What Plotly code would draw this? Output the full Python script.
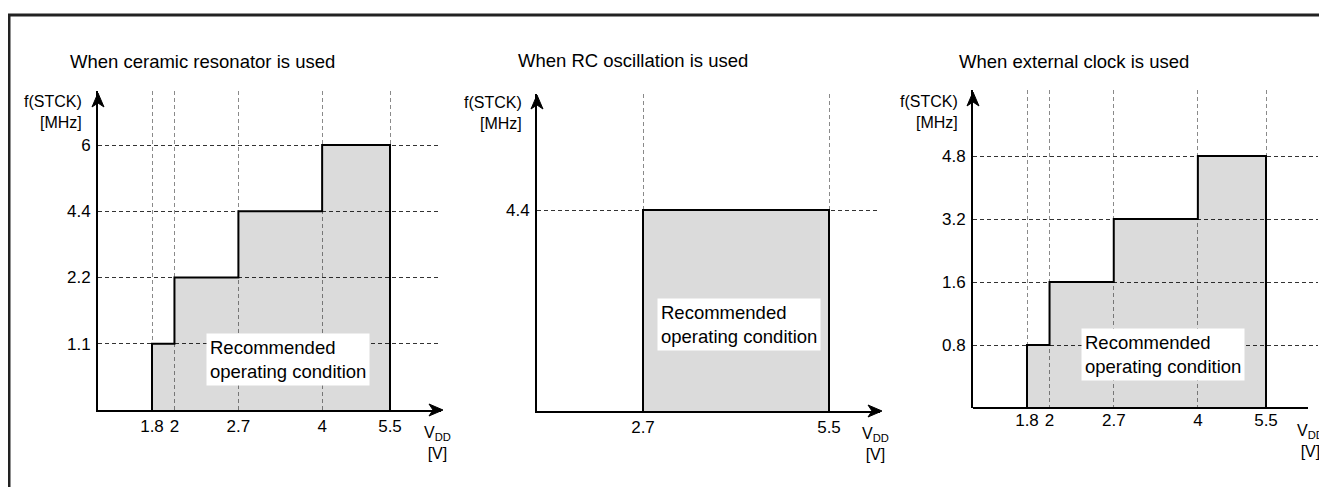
import math
import plotly.graph_objects as go

W, H = 1327, 495
PAGE_PAD = 8  # the browser puts an 8px body margin round the figure
FIG_W, FIG_H = W - PAGE_PAD, H - 2 * PAGE_PAD  # keep the page free of scrollbars
FONT = "Liberation Sans, Arial, sans-serif"

# ==== data ====
ceramic_v = [1.8, 2, 2.7, 4, 5.5]      # VDD break points [V]
ceramic_f = [1.1, 2.2, 4.4, 6]         # f(STCK) per VDD range [MHz]
rc_v = [2.7, 5.5]
rc_f = [4.4]
ext_v = [1.8, 2, 2.7, 4, 5.5]
ext_f = [0.8, 1.6, 3.2, 4.8]

titles = ["When ceramic resonator is used",
          "When RC oscillation is used",
          "When external clock is used"]
box_text = "Recommended<br>operating condition"

# ==== layout of each panel (pixels in the 1327x495 screenshot) ====
panels = [
    dict(v=ceramic_v, f=ceramic_f, title=titles[0],
         left=98, right=441, top=91, bottom=410,
         xa=(152, 390), ytop=145, xarrow=443, yarrow=93, xline_end=None,
         title_pos=(68, 62), fl_pos=(84, 112), vdd_x=437, box_pos=(206, 359)),
    dict(v=rc_v, f=rc_f, title=titles[1],
         left=537, right=880, top=94, bottom=411,
         xa=(643, 829), ytop=210, xarrow=882, yarrow=95, xline_end=None,
         title_pos=(516, 60), fl_pos=(524, 113), vdd_x=875, box_pos=(657, 324)),
    dict(v=ext_v, f=ext_f, title=titles[2],
         left=973, right=1318, top=90, bottom=408,
         xa=(1027, 1266), ytop=156, xarrow=None, yarrow=92, xline_end=1308,
         title_pos=(957, 61), fl_pos=(960, 112), vdd_x=1310, box_pos=(1081, 354)),
]


def px(x):
    return (x - PAGE_PAD) / FIG_W


def py(y):
    return 1 - (y - PAGE_PAD) / FIG_H


def fmt(v):
    return f"{v:g}"


def arrow_path(x, y, direction):
    # arrow head with a notched back, tip at (x, y) in screenshot pixels
    if direction == "up":
        pts = [(x, y), (x - 6, y + 14), (x, y + 10), (x + 6, y + 14)]
    else:
        pts = [(x, y), (x - 14, y - 6), (x - 10, y), (x - 14, y + 6)]
    d = "M " + " L ".join(f"{px(a):.5f},{py(b):.5f}" for a, b in pts) + " Z"
    return dict(type="path", xref="paper", yref="paper", path=d,
                fillcolor="black", line=dict(color="black", width=1))


fig = go.Figure()
annotations = []
shapes = []

for i, p in enumerate(panels):
    n = "" if i == 0 else str(i + 1)
    v, f = p["v"], p["f"]

    # closed step outline of the operating area
    xs, ys = [v[0]], ["0"]
    for k, level in enumerate(f):
        xs += [v[k], v[k + 1]]
        ys += [fmt(level), fmt(level)]
    xs.append(v[-1])
    ys.append("0")

    fig.add_trace(go.Scatter(
        x=xs, y=ys, mode="lines", fill="toself",
        fillcolor="rgba(0,0,0,0.14)",
        line=dict(color="black", width=2),
        xaxis="x" + n, yaxis="y" + n,
        hoverinfo="skip", showlegend=False,
    ))

    # log x scale fitted to the first and last break point
    l0, l1 = math.log10(v[0]), math.log10(v[-1])
    p0, p1 = p["xa"]
    kx = (p1 - p0) / (l1 - l0)
    xr = [l0 - (p0 - p["left"]) / kx, l1 + (p["right"] - p1) / kx]

    cats = ["0"] + [fmt(level) for level in f]
    ky = (p["bottom"] - p["ytop"]) / len(f)
    yr = [0, (p["bottom"] - p["top"]) / ky]

    fig.update_layout({
        "xaxis" + n: dict(
            type="log", domain=[px(p["left"]), px(p["right"])], range=xr,
            anchor="y" + n, tickmode="array", tickvals=v,
            ticktext=[fmt(x) for x in v], ticks="",
            showgrid=True, gridcolor="#8a8a8a", griddash="4px,3px", gridwidth=1,
            showline=p["xline_end"] is None, linecolor="black", linewidth=2,
            zeroline=False, tickfont=dict(size=17, color="black", family=FONT),
            fixedrange=True,
        ),
        "yaxis" + n: dict(
            type="category", categoryorder="array", categoryarray=cats,
            domain=[py(p["bottom"]), py(p["top"])], range=yr,
            anchor="x" + n, tickmode="array", tickvals=cats[1:],
            ticktext=cats[1:], ticks="", ticklabelstandoff=2,
            showgrid=True, gridcolor="#333333", griddash="4px,3px", gridwidth=1,
            showline=True, linecolor="black", linewidth=2,
            zeroline=False, tickfont=dict(size=17, color="black", family=FONT),
            fixedrange=True,
        ),
    })

    if p["xline_end"] is not None:
        shapes.append(dict(
            type="line", xref="paper", yref="paper",
            x0=px(p["left"]), x1=px(p["xline_end"]),
            y0=py(p["bottom"]), y1=py(p["bottom"]),
            line=dict(color="black", width=2),
        ))

    # axis arrow heads
    shapes.append(arrow_path(p["left"], p["yarrow"], "up"))
    if p["xarrow"] is not None:
        shapes.append(arrow_path(p["xarrow"], p["bottom"], "right"))

    # texts
    annotations.append(dict(
        x=px(p["title_pos"][0]), y=py(p["title_pos"][1]), xref="paper", yref="paper",
        text=p["title"], showarrow=False, xanchor="left", yanchor="middle",
        font=dict(size=18.5, color="black", family=FONT),
    ))
    annotations.append(dict(
        x=px(p["fl_pos"][0]), y=py(p["fl_pos"][1]), xref="paper", yref="paper",
        text="f(STCK)<br>[MHz]", showarrow=False, xanchor="right", yanchor="middle",
        align="right", font=dict(size=16, color="black", family=FONT),
    ))
    annotations.append(dict(
        x=px(p["vdd_x"]), y=py(p["bottom"] + 12), xref="paper", yref="paper",
        text="V<sub>DD</sub><br>[V]", showarrow=False, xanchor="center", yanchor="top",
        align="center", font=dict(size=16, color="black", family=FONT),
    ))
    annotations.append(dict(
        x=px(p["box_pos"][0]), y=py(p["box_pos"][1]), xref="paper", yref="paper",
        text=box_text, showarrow=False, xanchor="left", yanchor="middle",
        align="left", bgcolor="white", borderpad=3,
        font=dict(size=18.5, color="black", family=FONT),
    ))

# outer frame
shapes.append(dict(
    type="rect", xref="paper", yref="paper",
    x0=px(9), y0=py(15), x1=1.02, y1=-0.05,
    line=dict(color="#222222", width=3),
))

fig.update_layout(
    width=FIG_W, height=FIG_H,
    margin=dict(l=0, r=0, t=0, b=0),
    paper_bgcolor="white", plot_bgcolor="white",
    font=dict(family=FONT, color="black"),
    annotations=annotations, shapes=shapes,
    showlegend=False,
)

fig.write_html("out.html", config={"displayModeBar": False})
